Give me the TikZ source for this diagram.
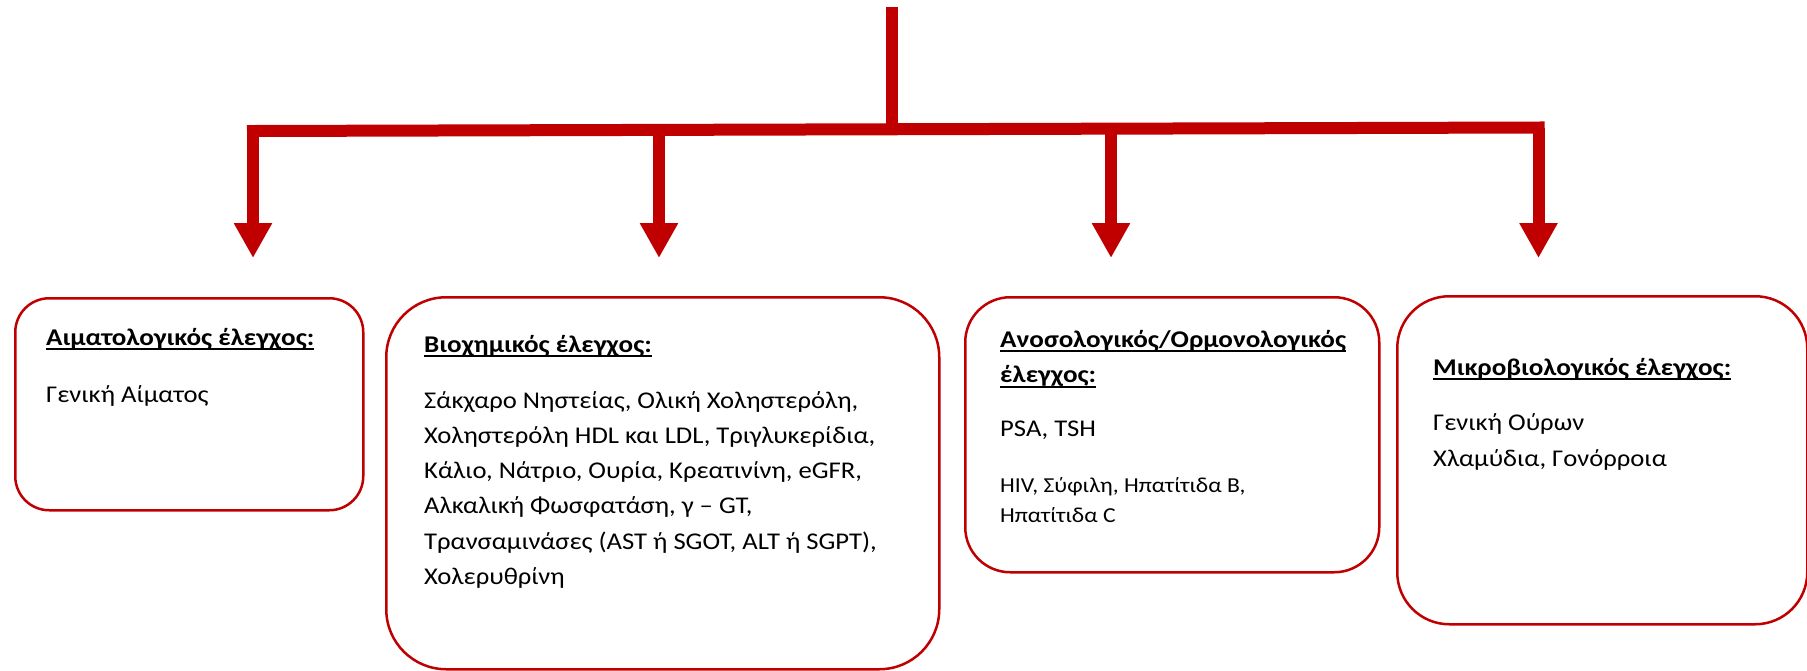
\documentclass[tikz,border=0pt]{standalone}
\usepackage{fontspec}
\setmainfont{Carlito}[FakeStretch=1.11, BoldFeatures={FakeStretch=1.13}]
\usetikzlibrary{arrows.meta}
\definecolor{dred}{RGB}{192,0,0}
\newsavebox\ulbox
\newcommand\myul[1]{\sbox\ulbox{#1}\rlap{\rule[-5pt]{\wd\ulbox}{2pt}}\usebox\ulbox}
\tikzset{
  redline/.style={draw=dred, line width=12pt},
  arrowline/.style={draw=dred, line width=12pt, -{Triangle[width=36pt,length=35pt]}},
  box/.style={draw=dred, line width=2.5pt, anchor=north west, inner sep=0pt},
  txt/.style={anchor=base west, inner sep=0pt, font=\fontsize{24}{28}\selectfont},
  smalltxt/.style={anchor=base west, inner sep=0pt, font=\fontsize{21.3}{25}\selectfont},
  ttl/.style={anchor=base west, inner sep=0pt, font=\fontsize{24}{28}\selectfont\bfseries}
}
\begin{document}
\begin{tikzpicture}[x=1pt,y=-1pt]
\useasboundingbox (0,0) rectangle (1807,670);
% connectors
\coordinate (top) at (892,7);
\coordinate (hub) at (892,129.3);
\coordinate (j1) at (253,131);
\coordinate (j2) at (659,129.9);
\coordinate (j3) at (1111,128.7);
\coordinate (j4) at (1538.5,127.5);
\coordinate (t1) at (253,258);
\coordinate (t2) at (659,258);
\coordinate (t3) at (1111,258);
\coordinate (t4) at (1538.5,258);
\draw[redline] (top) -- (hub);
\draw[redline, line cap=rect] (j1) -- (j4);
\draw[arrowline] (j1) -- (t1);
\draw[arrowline] (j2) -- (t2);
\draw[arrowline] (j3) -- (t3);
\draw[arrowline] (j4) -- (t4);
% boxes
\node[box, minimum width=348pt, minimum height=212pt, rounded corners=34pt] (b1) at (14,297) {};
\node[box, minimum width=553pt, minimum height=372pt, rounded corners=60pt] (b2) at (385,296) {};
\node[box, minimum width=414pt, minimum height=275pt, rounded corners=45pt] (b3) at (964,296) {};
\node[box, minimum width=410pt, minimum height=328pt, rounded corners=52pt] (b4) at (1396,295) {};
% box 1
\node[ttl] (h1) at (46,345) {\myul{Αιματολογικός έλεγχος:}};
\node[txt] (l11) at (46,402) {Γενική Αίματος};
% box 2
\node[ttl] (h2) at (424,352.3) {\myul{Βιοχημικός έλεγχος:}};
\node[txt] (l21) at (424,408.3) {Σάκχαρο Νηστείας, Ολική Χοληστερόλη,};
\node[txt] (l22) at (424,443.5) {Χοληστερόλη HDL και LDL, Τριγλυκερίδια,};
\node[txt] (l23) at (424,478.7) {Κάλιο, Νάτριο, Ουρία, Κρεατινίνη, eGFR,};
\node[txt] (l24) at (424,513.9) {Αλκαλική Φωσφατάση, γ – GT,};
\node[txt] (l25) at (424,549.1) {Τρανσαμινάσες (AST ή SGOT, ALT ή SGPT),};
\node[txt] (l26) at (424,584.3) {Χολερυθρίνη};
% box 3
\node[ttl] (h3a) at (1000,347) {\myul{Ανοσολογικός/Ορμονολογικός}};
\node[ttl] (h3b) at (1000,382.7) {\myul{έλεγχος:}};
\node[txt] (l31) at (1000,436.7) {PSA, TSH};
\node[smalltxt] (l32) at (1000,492.3) {HIV, Σύφιλη, Ηπατίτιδα Β,};
\node[smalltxt] (l33) at (1000,522.3) {Ηπατίτιδα C};
% box 4
\node[ttl] (h4) at (1433,375) {\myul{Μικροβιολογικός έλεγχος:}};
\node[txt] (l41) at (1433,430) {Γενική Ούρων};
\node[txt] (l42) at (1433,466) {Χλαμύδια, Γονόρροια};
\end{tikzpicture}
\end{document}
